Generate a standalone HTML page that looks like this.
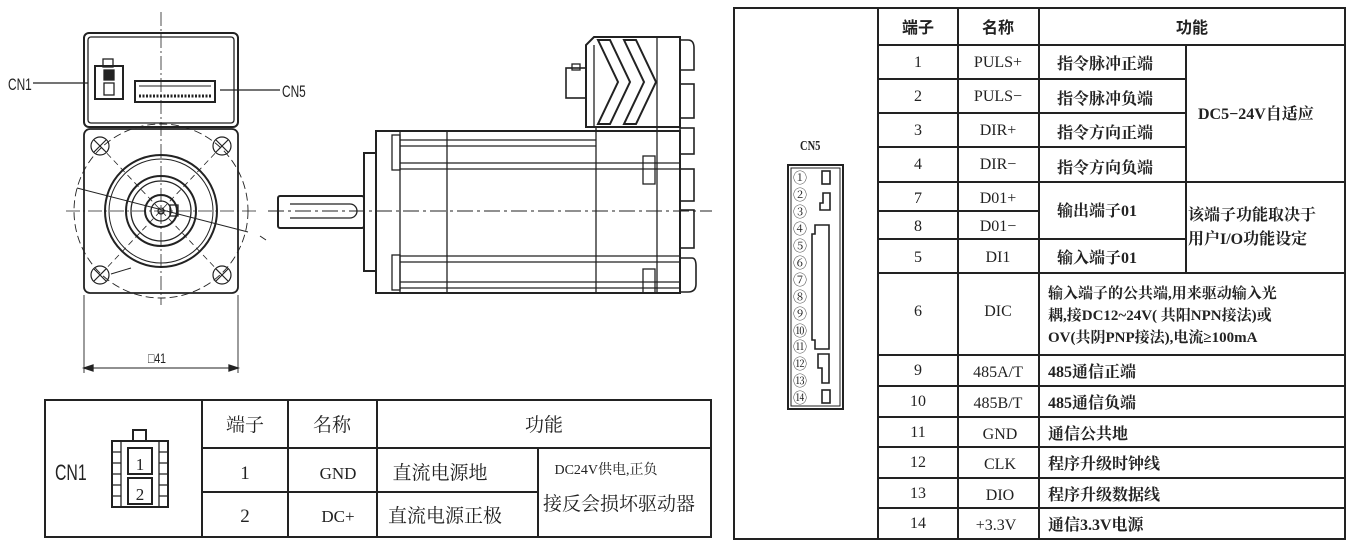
<!DOCTYPE html>
<html><head><meta charset="utf-8"><style>
html,body{margin:0;padding:0;background:#fff;}
svg{display:block}
text{font-family:"Liberation Serif","Noto Serif CJK SC",serif;fill:#222}
.c{font-family:"Liberation Serif","Noto Sans CJK SC",sans-serif;font-weight:bold}
.n{font-family:"Liberation Sans",sans-serif}
</style></head><body>
<svg width="1350" height="547" viewBox="0 0 1350 547" xmlns="http://www.w3.org/2000/svg">
<g fill="none" stroke="#222" stroke-width="1.3">
<line x1="161" y1="12" x2="161" y2="305" stroke-dasharray="14,3,2,3" stroke-width="0.8"/>
<line x1="66" y1="211" x2="258" y2="211" stroke-dasharray="14,3,2,3" stroke-width="0.8"/>
<rect x="84" y="33" width="154" height="94" rx="5" stroke-width="2"/>
<rect x="88" y="37" width="146" height="86" rx="3"/>
<rect x="95" y="66" width="28" height="33" stroke-width="2"/>
<rect x="103" y="59" width="10" height="8"/>
<rect x="104" y="70" width="10" height="10" fill="#222"/>
<rect x="104" y="83" width="10" height="12"/>
<rect x="135" y="81" width="80" height="21" stroke-width="2"/>
<line x1="139" y1="96" x2="211" y2="96" stroke-dasharray="2,1.5" stroke-width="3"/>
<line x1="139" y1="86" x2="211" y2="86" stroke-width="1"/>
<line x1="33" y1="83" x2="88" y2="83"/>
<line x1="220" y1="90" x2="280" y2="90"/>
<rect x="84" y="129" width="154" height="164" rx="6" stroke-width="1.8"/>
<circle cx="161" cy="211" r="87" stroke-dasharray="8,4" stroke-width="0.9"/>
<circle cx="161" cy="211" r="56" stroke-width="2"/>
<circle cx="161" cy="211" r="52" stroke-width="1"/>
<circle cx="161" cy="211" r="35" stroke-width="2"/>
<circle cx="161" cy="211" r="30"/>
<circle cx="161" cy="211" r="16" stroke-width="2"/>
<circle cx="161" cy="211" r="10"/>
<circle cx="161" cy="211" r="3"/>
<rect x="170" y="205" width="8" height="11"/>
<line x1="77" y1="188" x2="248" y2="232" stroke-width="1"/>
<line x1="260" y1="236" x2="266" y2="240" stroke-width="1"/>
<g stroke-dasharray="6,4" stroke-width="0.8">
<line x1="100" y1="146" x2="222" y2="275"/><line x1="222" y1="146" x2="100" y2="275"/>
</g>
<g stroke-width="1.2">
<circle cx="100" cy="146" r="9"/><path d="M94 140l12 12M106 140l-12 12"/>
<circle cx="222" cy="146" r="9"/><path d="M216 140l12 12M228 140l-12 12"/>
<circle cx="100" cy="275" r="9"/><path d="M94 269l12 12M106 269l-12 12"/>
<circle cx="222" cy="275" r="9"/><path d="M216 269l12 12M228 269l-12 12"/>
</g>
<path d="M111 274l20-6" stroke-width="1"/>
<line x1="84" y1="295" x2="84" y2="373" stroke-width="0.9"/>
<line x1="238" y1="295" x2="238" y2="373" stroke-width="0.9"/>
<line x1="84" y1="368" x2="238" y2="368" stroke-width="0.9"/>
<path d="M84 368l9-3v6z M238 368l-9-3v6z" fill="#222"/>
<line x1="268" y1="211" x2="712" y2="211" stroke-dasharray="16,4,3,4" stroke-width="0.9"/>
<rect x="278" y="196" width="86" height="32" rx="2" stroke-width="2"/>
<path d="M290 204h60a7 7 0 0 1 0 14h-60"/>
<rect x="364" y="153" width="12" height="118" stroke-width="2"/>
<rect x="376" y="131" width="304" height="162" stroke-width="2"/>
<line x1="400" y1="131" x2="400" y2="293"/>
<line x1="447" y1="131" x2="447" y2="293"/>
<line x1="596" y1="127" x2="596" y2="293"/>
<line x1="657" y1="37" x2="657" y2="293"/>
<line x1="400" y1="140" x2="596" y2="140"/><line x1="400" y1="146" x2="596" y2="146"/>
<line x1="400" y1="163" x2="680" y2="163"/><line x1="400" y1="169" x2="680" y2="169"/>
<line x1="400" y1="256" x2="680" y2="256"/><line x1="400" y1="262" x2="680" y2="262"/>
<line x1="400" y1="282" x2="680" y2="282"/><line x1="400" y1="288" x2="680" y2="288"/>
<rect x="392" y="135" width="8" height="35"/><rect x="392" y="255" width="8" height="35"/>
<rect x="643" y="156" width="12" height="28"/><rect x="643" y="269" width="12" height="24"/>
<path d="M586 127V45l8-8h86v90z" stroke-width="2"/>
<line x1="594" y1="127" x2="594" y2="45"/>
<rect x="566" y="68" width="20" height="30" stroke-width="1.6"/>
<rect x="572" y="64" width="8" height="6"/>
<path d="M598 40l20 42l-20 42h12l20-42l-20-42z" stroke-width="2"/>
<path d="M624 40l20 42l-20 42h12l20-42l-20-42z" stroke-width="2"/>
<g stroke-width="1.6">
<path d="M680 40h8q6 0 6 8v22h-14"/>
<rect x="680" y="84" width="14" height="34"/>
<rect x="680" y="128" width="14" height="26"/>
<rect x="680" y="169" width="14" height="32"/>
<rect x="680" y="210" width="14" height="38"/>
<path d="M680 258h12q4 0 4 8v18q0 8-8 8h-8"/>
</g>
<rect x="45" y="400" width="666" height="137" stroke-width="2"/>
<line x1="202" y1="400" x2="202" y2="537" stroke-width="2"/>
<line x1="288" y1="400" x2="288" y2="537" stroke-width="2"/>
<line x1="377" y1="400" x2="377" y2="537" stroke-width="2"/>
<line x1="538" y1="448" x2="538" y2="537" stroke-width="2"/>
<line x1="202" y1="448" x2="711" y2="448" stroke-width="2"/>
<line x1="202" y1="492" x2="538" y2="492" stroke-width="2"/>
<rect x="112" y="441" width="56" height="66" stroke-width="2"/>
<rect x="133" y="430" width="13" height="11" stroke-width="2"/>
<line x1="121" y1="441" x2="121" y2="507"/><line x1="159" y1="441" x2="159" y2="507"/>
<path d="M112 452h9M112 463h9M112 474h9M112 485h9M112 496h9M159 452h9M159 463h9M159 474h9M159 485h9M159 496h9"/>
<rect x="128" y="448" width="24" height="26" stroke-width="2"/>
<rect x="128" y="478" width="24" height="26" stroke-width="2"/>
<rect x="734" y="8" width="611" height="531" stroke-width="2"/>
<line x1="878" y1="8" x2="878" y2="539" stroke-width="2"/>
<line x1="958" y1="8" x2="958" y2="539" stroke-width="2"/>
<line x1="1039" y1="8" x2="1039" y2="539" stroke-width="2"/>
<line x1="1186" y1="45" x2="1186" y2="273" stroke-width="2"/>
<g stroke-width="2">
<line x1="878" y1="45" x2="1345" y2="45"/>
<line x1="878" y1="79" x2="1186" y2="79"/>
<line x1="878" y1="113" x2="1186" y2="113"/>
<line x1="878" y1="147" x2="1186" y2="147"/>
<line x1="878" y1="182" x2="1345" y2="182"/>
<line x1="878" y1="211" x2="1039" y2="211"/>
<line x1="878" y1="239" x2="1186" y2="239"/>
<line x1="878" y1="273" x2="1345" y2="273"/>
<line x1="878" y1="355" x2="1345" y2="355"/>
<line x1="878" y1="386" x2="1345" y2="386"/>
<line x1="878" y1="417" x2="1345" y2="417"/>
<line x1="878" y1="447" x2="1345" y2="447"/>
<line x1="878" y1="478" x2="1345" y2="478"/>
<line x1="878" y1="508" x2="1345" y2="508"/>
</g>
<rect x="788" y="165" width="55" height="244" stroke-width="2"/>
<rect x="791" y="168" width="49" height="238" stroke-width="1"/>
<rect x="822" y="171" width="8" height="13" stroke-width="1.6"/>
<path d="M820 210h10v-17h-7v10h-3z" stroke-width="1.6"/>
<path d="M815 225h14v124h-14v-9h-3v-106h3z" stroke-width="1.6"/>
<path d="M818 354h11v29h-7v-15h-4z" stroke-width="1.6"/>
<rect x="822" y="390" width="8" height="13" stroke-width="1.6"/>
</g>
<text class="n" font-size="17" transform="translate(8 90) scale(0.7 1)">CN1</text>
<text class="n" font-size="17" transform="translate(282 97) scale(0.7 1)">CN5</text>
<text class="n" font-size="14" transform="translate(148 363) scale(0.75 1)">□41</text>
<text class="n" font-size="22" transform="translate(55 480) scale(0.72 1)">CN1</text>
<text x="140" y="470" font-size="17" text-anchor="middle">1</text>
<text x="140" y="500" font-size="17" text-anchor="middle">2</text>
<g font-size="19" text-anchor="middle">
<text x="245" y="431">端子</text><text x="332" y="431">名称</text><text x="544" y="431">功能</text>
<text x="245" y="479">1</text><text x="245" y="522">2</text>
<text x="338" y="479" font-size="17">GND</text><text x="338" y="522" font-size="17">DC+</text>
<text x="440" y="479" font-size="19">直流电源地</text><text x="445" y="522" font-size="19">直流电源正极</text>
<text x="606" y="474" font-size="14">DC24V供电,正负</text>
<text x="619" y="510" font-size="19">接反会损坏驱动器</text>
</g>
<text class="c" font-size="14" transform="translate(800 150) scale(0.75 1)">CN5</text>
<g font-size="14" text-anchor="middle">
<text x="800" y="183">①</text><text x="800" y="200">②</text><text x="800" y="217">③</text><text x="800" y="234">④</text><text x="800" y="251">⑤</text><text x="800" y="268">⑥</text><text x="800" y="285">⑦</text><text x="800" y="302">⑧</text><text x="800" y="319">⑨</text><text x="800" y="336">⑩</text><text x="800" y="352">⑪</text><text x="800" y="369">⑫</text><text x="800" y="386">⑬</text><text x="800" y="403">⑭</text>
</g>
<g font-size="16" text-anchor="middle">
<text x="918" y="33" class="c">端子</text><text x="998" y="33" class="c">名称</text><text x="1192" y="33" class="c">功能</text>
<text x="918" y="67">1</text><text x="998" y="67">PULS+</text>
<text x="918" y="101">2</text><text x="998" y="101">PULS−</text>
<text x="918" y="135">3</text><text x="998" y="135">DIR+</text>
<text x="918" y="169">4</text><text x="998" y="169">DIR−</text>
<text x="918" y="203">7</text><text x="998" y="203">D01+</text>
<text x="918" y="231">8</text><text x="998" y="231">D01−</text>
<text x="918" y="262">5</text><text x="998" y="262">DI1</text>
<text x="918" y="316">6</text><text x="998" y="316">DIC</text>
<text x="918" y="375">9</text><text x="998" y="377">485A/T</text>
<text x="918" y="406">10</text><text x="998" y="408">485B/T</text>
<text x="918" y="437">11</text><text x="1000" y="439">GND</text>
<text x="918" y="467">12</text><text x="1000" y="469">CLK</text>
<text x="918" y="498">13</text><text x="1000" y="500">DIO</text>
<text x="918" y="528">14</text><text x="996" y="530">+3.3V</text>
</g>
<g font-size="16" class="c">
<text x="1057" y="69">指令脉冲正端</text>
<text x="1057" y="104">指令脉冲负端</text>
<text x="1057" y="138">指令方向正端</text>
<text x="1057" y="173">指令方向负端</text>
<text x="1057" y="216">输出端子01</text>
<text x="1057" y="263">输入端子01</text>
<text x="1198" y="119">DC5−24V自适应</text>
<text x="1188" y="220">该端子功能取决于</text>
<text x="1188" y="244">用户I/O功能设定</text>
<text x="1048" y="298" font-size="15">输入端子的公共端,用来驱动输入光</text>
<text x="1048" y="320" font-size="15">耦,接DC12~24V( 共阳NPN接法)或</text>
<text x="1048" y="342" font-size="15">OV(共阴PNP接法),电流≥100mA</text>
<text x="1048" y="377">485通信正端</text>
<text x="1048" y="408">485通信负端</text>
<text x="1048" y="439">通信公共地</text>
<text x="1048" y="469">程序升级时钟线</text>
<text x="1048" y="500">程序升级数据线</text>
<text x="1048" y="530">通信3.3V电源</text>
</g>
</svg>
</body></html>
